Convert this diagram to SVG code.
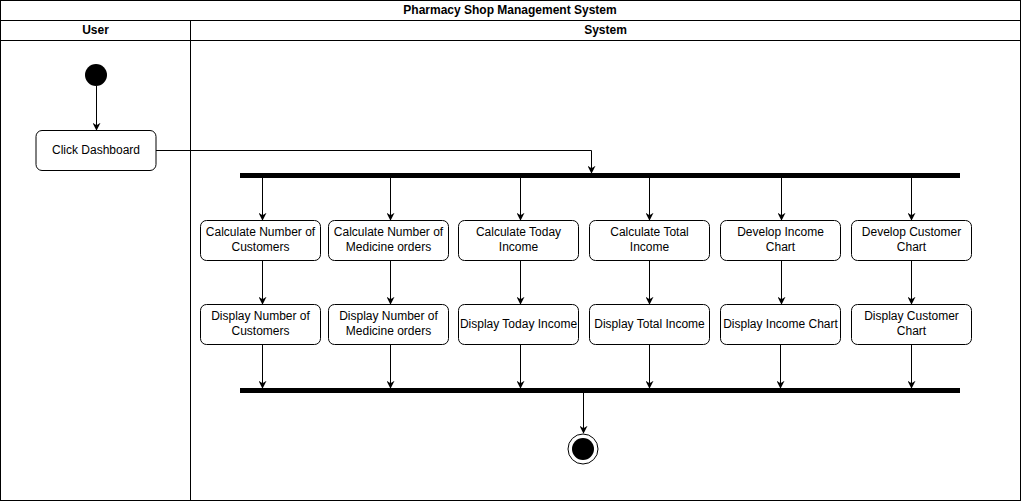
<svg xmlns="http://www.w3.org/2000/svg" width="1021" height="501" viewBox="0 0 1021 501">
<defs>
<style>
.lane{fill:#fff;stroke:#000;stroke-width:1}
.hdr{font-family:"Liberation Sans",Arial,sans-serif;font-size:12px;font-weight:bold;text-anchor:middle;fill:#000}
.box{fill:#fff;stroke:#000;stroke-width:1}
.t{font-family:"Liberation Sans",Arial,sans-serif;font-size:12px;text-anchor:middle;fill:#000}
.c{fill:none;stroke:#000;stroke-width:1}
.bar{fill:#000}
</style>
<marker id="a" viewBox="0 0 10 10" refX="9" refY="5" markerWidth="8" markerHeight="8" markerUnits="userSpaceOnUse" orient="auto">
<path d="M0,0 L10,5 L0,10 L3,5 Z" fill="#000"/>
</marker>
</defs>
<rect width="1021" height="501" fill="#fff"/>
<g id="pool">
<rect class="lane" x="0.5" y="0.5" width="1020" height="500"/>
<line class="c" x1="0.5" y1="20.5" x2="1020.5" y2="20.5"/>
<line class="c" x1="0.5" y1="40.5" x2="1020.5" y2="40.5"/>
<line class="c" x1="190.5" y1="20.5" x2="190.5" y2="500.5"/>
<text class="hdr" x="510" y="14">Pharmacy Shop Management System</text>
<text class="hdr" x="95.5" y="34">User</text>
<text class="hdr" x="605.5" y="34">System</text>
</g>
<g id="start"><circle cx="96" cy="75" r="11" fill="#000"/></g>
<g id="click"><rect class="box" x="36" y="130.5" width="120" height="40" rx="6"/><text class="t" x="96" y="153.5">Click Dashboard</text></g>
<g id="fork"><rect class="bar" x="240" y="173" width="720" height="5"/></g>
<g id="join"><rect class="bar" x="240" y="388" width="720" height="5"/></g>
<g id="calc1"><rect class="box" x="200.5" y="220.5" width="120" height="40" rx="6"/><text class="t" x="260.5" y="236">Calculate Number of</text><text class="t" x="260.5" y="251">Customers</text></g>
<g id="calc2"><rect class="box" x="328.5" y="220.5" width="120" height="40" rx="6"/><text class="t" x="388.5" y="236">Calculate Number of</text><text class="t" x="388.5" y="251">Medicine orders</text></g>
<g id="calc3"><rect class="box" x="458.5" y="220.5" width="120" height="40" rx="6"/><text class="t" x="518.5" y="236">Calculate Today</text><text class="t" x="518.5" y="251">Income</text></g>
<g id="calc4"><rect class="box" x="589.5" y="220.5" width="120" height="40" rx="6"/><text class="t" x="649.5" y="236">Calculate Total</text><text class="t" x="649.5" y="251">Income</text></g>
<g id="dev5"><rect class="box" x="720.5" y="220.5" width="120" height="40" rx="6"/><text class="t" x="780.5" y="236">Develop Income</text><text class="t" x="780.5" y="251">Chart</text></g>
<g id="dev6"><rect class="box" x="851.5" y="220.5" width="120" height="40" rx="6"/><text class="t" x="911.5" y="236">Develop Customer</text><text class="t" x="911.5" y="251">Chart</text></g>
<g id="disp1"><rect class="box" x="200.5" y="304.5" width="120" height="40" rx="6"/><text class="t" x="260.5" y="320">Display Number of</text><text class="t" x="260.5" y="335">Customers</text></g>
<g id="disp2"><rect class="box" x="328.5" y="304.5" width="120" height="40" rx="6"/><text class="t" x="388.5" y="320">Display Number of</text><text class="t" x="388.5" y="335">Medicine orders</text></g>
<g id="disp3"><rect class="box" x="458.5" y="304.5" width="120" height="40" rx="6"/><text class="t" x="518.5" y="327.5">Display Today Income</text></g>
<g id="disp4"><rect class="box" x="589.5" y="304.5" width="120" height="40" rx="6"/><text class="t" x="649.5" y="327.5">Display Total Income</text></g>
<g id="disp5"><rect class="box" x="720.5" y="304.5" width="120" height="40" rx="6"/><text class="t" x="780.5" y="327.5">Display Income Chart</text></g>
<g id="disp6"><rect class="box" x="851.5" y="304.5" width="120" height="40" rx="6"/><text class="t" x="911.5" y="320">Display Customer</text><text class="t" x="911.5" y="335">Chart</text></g>
<g id="end"><circle cx="583" cy="449" r="15" fill="#fff" stroke="#000" stroke-width="1"/><circle cx="583" cy="449" r="11" fill="#000"/></g>
<g id="connectors">
<path class="c" d="M96.5,86 V130" marker-end="url(#a)"/>
<path class="c" d="M156,150.5 H591.5 V173" marker-end="url(#a)"/>
<path class="c" d="M262.5,178 V220" marker-end="url(#a)"/>
<path class="c" d="M390.5,178 V220" marker-end="url(#a)"/>
<path class="c" d="M520.5,178 V220" marker-end="url(#a)"/>
<path class="c" d="M649.5,178 V220" marker-end="url(#a)"/>
<path class="c" d="M781.5,178 V220" marker-end="url(#a)"/>
<path class="c" d="M911.5,178 V220" marker-end="url(#a)"/>
<path class="c" d="M262.5,261 V304" marker-end="url(#a)"/>
<path class="c" d="M390.5,261 V304" marker-end="url(#a)"/>
<path class="c" d="M520.5,261 V304" marker-end="url(#a)"/>
<path class="c" d="M649.5,261 V304" marker-end="url(#a)"/>
<path class="c" d="M781.5,261 V304" marker-end="url(#a)"/>
<path class="c" d="M911.5,261 V304" marker-end="url(#a)"/>
<path class="c" d="M262.5,345 V388" marker-end="url(#a)"/>
<path class="c" d="M390.5,345 V388" marker-end="url(#a)"/>
<path class="c" d="M520.5,345 V388" marker-end="url(#a)"/>
<path class="c" d="M649.5,345 V388" marker-end="url(#a)"/>
<path class="c" d="M780.5,345 V388" marker-end="url(#a)"/>
<path class="c" d="M911.5,345 V388" marker-end="url(#a)"/>
<path class="c" d="M583.5,393 V433" marker-end="url(#a)"/>
</g>
</svg>
